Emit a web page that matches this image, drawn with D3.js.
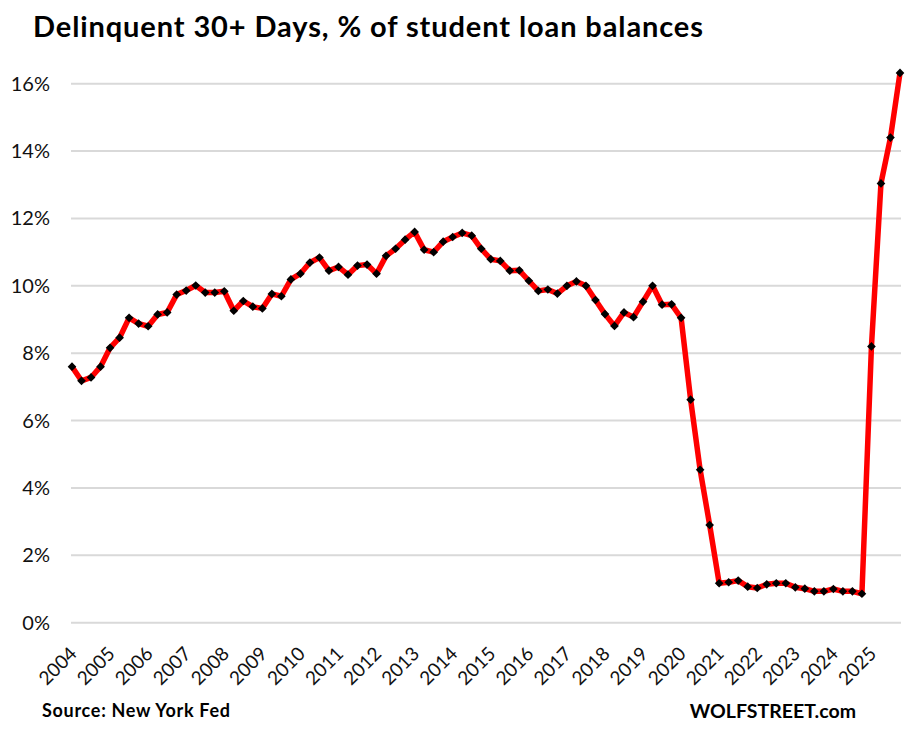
<!DOCTYPE html>
<html>
<head>
<meta charset="utf-8">
<script src="https://cdn.jsdelivr.net/npm/d3@7"></script>
<style>
  body { margin: 0; background: #fff; }
  svg { display: block; }
</style>
</head>
<body>
<div id="chart"></div>
<script>
// quarterly values, 2004 Q1 .. 2025 Q4 (% of balances 30+ days delinquent)
var quarters = [];
for (var yr = 2004; yr <= 2025; yr++) {
  for (var q = 1; q <= 4; q++) quarters.push(yr + "Q" + q);
}
var values = [
  7.60, 7.18, 7.28, 7.60, 8.16, 8.46, 9.05, 8.88, 8.80, 9.15, 9.21, 9.74,
  9.86, 10.01, 9.80, 9.80, 9.84, 9.26, 9.55, 9.38, 9.33, 9.76, 9.69, 10.19,
  10.36, 10.69, 10.84, 10.45, 10.56, 10.33, 10.60, 10.63, 10.36, 10.89, 11.10, 11.37,
  11.60, 11.07, 11.00, 11.31, 11.45, 11.57, 11.49, 11.10, 10.79, 10.74, 10.45, 10.46,
  10.15, 9.85, 9.89, 9.77, 10.00, 10.13, 10.00, 9.58, 9.16, 8.81, 9.21, 9.07,
  9.53, 10.00, 9.44, 9.45, 9.05, 6.62, 4.54, 2.90, 1.17, 1.20, 1.25, 1.07,
  1.03, 1.14, 1.17, 1.17, 1.05, 1.01, 0.93, 0.93, 1.00, 0.93, 0.93, 0.86,
  8.20, 13.04, 14.40, 16.32
];
var yearLabels = d3.range(2004, 2026).map(String);
var yTicks = [0, 2, 4, 6, 8, 10, 12, 14, 16];

var width = 910, height = 729;

var svg = d3.select("#chart")
  .append("svg")
  .attr("width", width)
  .attr("height", height);

var x = d3.scaleLinear()
  .domain([0, quarters.length - 1])
  .range([72, 900]);

var y = d3.scaleLinear()
  .domain([0, 16])
  .range([622.7, 83.7]);

// title
svg.append("text")
  .attr("x", 33)
  .attr("y", 37)
  .attr("font-family", "Lato, sans-serif")
  .attr("font-weight", "bold")
  .attr("font-size", "29px")
  .attr("textLength", 670)
  .attr("lengthAdjust", "spacing")
  .attr("fill", "#000")
  .text("Delinquent 30+ Days, % of student loan balances");

// gridlines
svg.append("g")
  .selectAll("line")
  .data(yTicks)
  .enter()
  .append("line")
  .attr("x1", 71)
  .attr("x2", 901)
  .attr("y1", function (d) { return y(d); })
  .attr("y2", function (d) { return y(d); })
  .attr("stroke", "#d9d9d9")
  .attr("stroke-width", 2);

// y labels
svg.append("g")
  .selectAll("text")
  .data(yTicks)
  .enter()
  .append("text")
  .attr("x", 50)
  .attr("y", function (d) { return y(d) + 7; })
  .attr("text-anchor", "end")
  .attr("font-family", "Lato, sans-serif")
  .attr("font-size", "20px")
  .attr("fill", "#111")
  .text(function (d) { return d + "%"; });

// x labels, one per year at Q1
svg.append("g")
  .selectAll("text")
  .data(yearLabels)
  .enter()
  .append("text")
  .attr("text-anchor", "end")
  .attr("font-family", "Lato, sans-serif")
  .attr("font-size", "19px")
  .attr("fill", "#111")
  .attr("transform", function (d, i) {
    return "translate(" + (x(i * 4) + 6) + ",655) rotate(-45)";
  })
  .text(function (d) { return d; });

// the line
var line = d3.line()
  .x(function (d, i) { return x(i); })
  .y(function (d) { return y(d); });

svg.append("path")
  .datum(values)
  .attr("d", line)
  .attr("fill", "none")
  .attr("stroke", "#ff0000")
  .attr("stroke-width", 5.5)
  .attr("stroke-linejoin", "round");

// diamond markers
svg.append("g")
  .selectAll("path")
  .data(values)
  .enter()
  .append("path")
  .attr("d", d3.symbol().type(d3.symbolDiamond2).size(48))
  .attr("transform", function (d, i) { return "translate(" + x(i) + "," + y(d) + ")"; })
  .attr("fill", "#000");

// footer
svg.append("text")
  .attr("x", 42)
  .attr("y", 717)
  .attr("font-family", "Lato, sans-serif")
  .attr("font-weight", "bold")
  .attr("font-size", "18px")
  .attr("textLength", 188)
  .attr("lengthAdjust", "spacing")
  .attr("fill", "#000")
  .text("Source: New York Fed");

svg.append("text")
  .attr("x", 856)
  .attr("y", 718)
  .attr("text-anchor", "end")
  .attr("font-family", "Lato, sans-serif")
  .attr("font-weight", "bold")
  .attr("font-size", "19.5px")
  .attr("fill", "#000")
  .text("WOLFSTREET.com");
</script>
</body>
</html>
